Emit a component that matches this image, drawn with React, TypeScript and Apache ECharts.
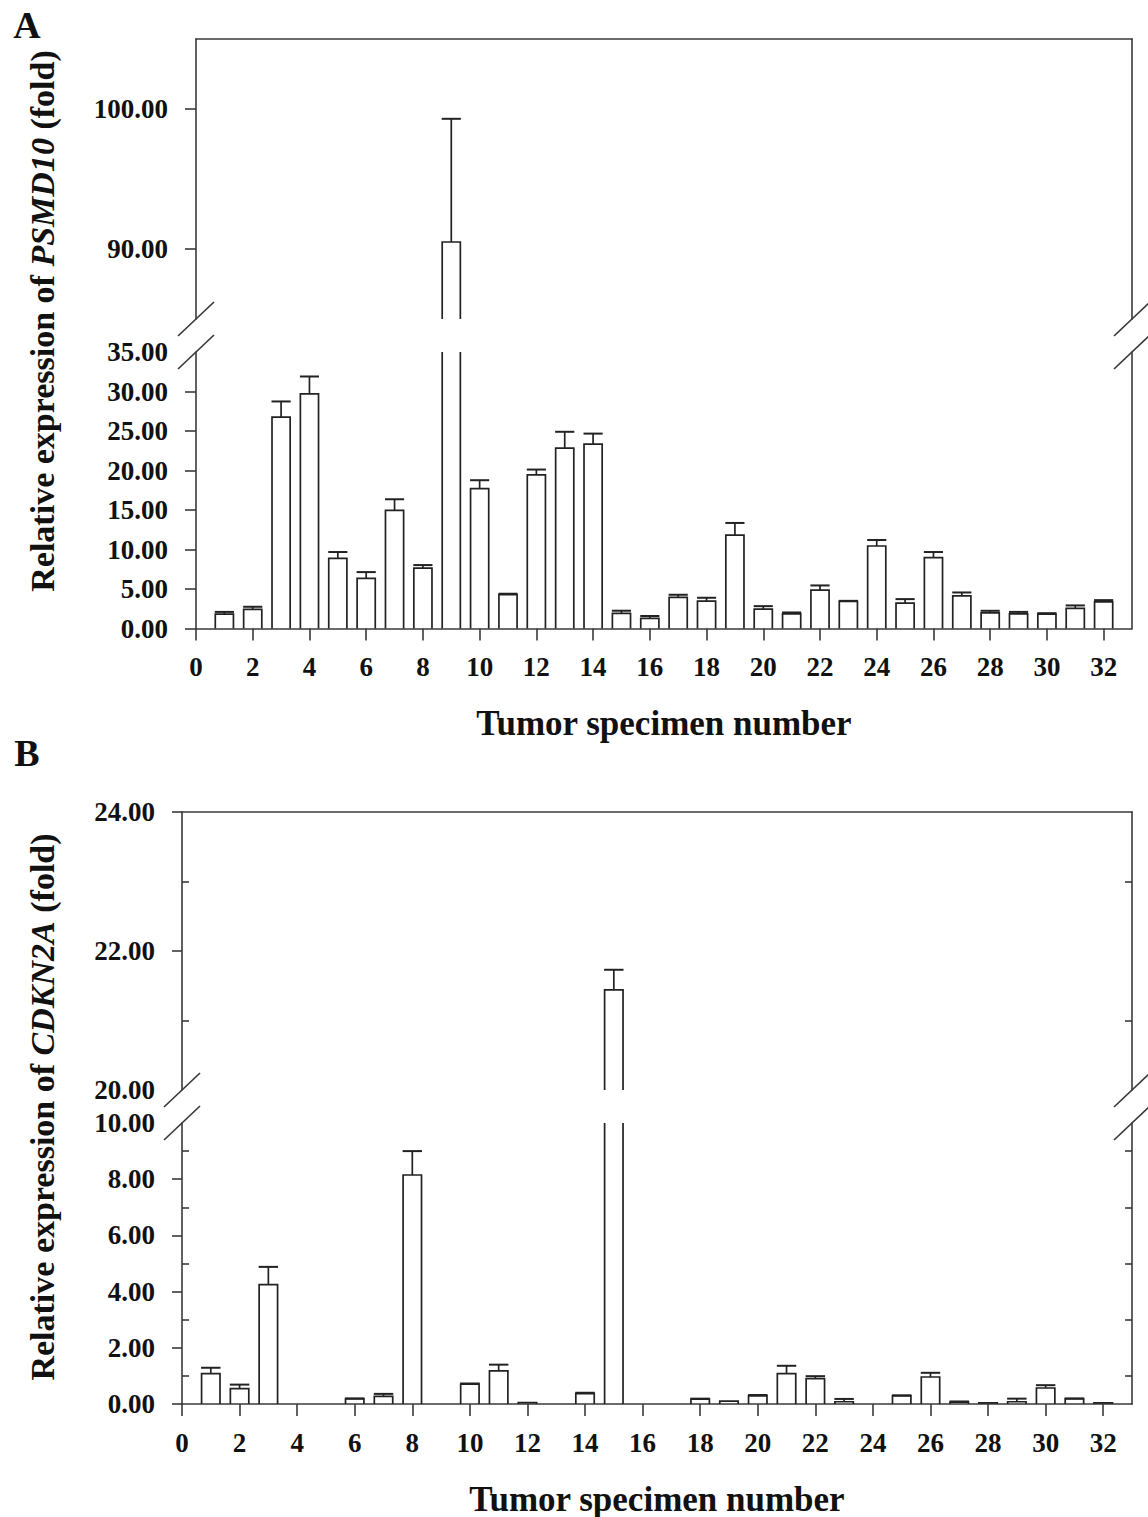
import React, { useEffect, useRef } from "react";
import * as echarts from "echarts";

// ---------- data ----------
const specimens = [
  1, 2, 3, 4, 5, 6, 7, 8, 9, 10, 11, 12, 13, 14, 15, 16,
  17, 18, 19, 20, 21, 22, 23, 24, 25, 26, 27, 28, 29, 30, 31, 32,
];
const psmd10Mean = [
  1.82, 2.41, 26.75, 29.71, 8.88, 6.34, 14.96, 7.65, 90.5, 17.71, 4.27, 19.44,
  22.82, 23.35, 1.92, 1.27, 3.93, 3.47, 11.83, 2.45, 1.86, 4.86, 3.42, 10.44,
  3.21, 8.96, 4.14, 1.99, 1.86, 1.82, 2.54, 3.38,
];
const psmd10Sd = [
  0.28, 0.34, 1.99, 2.19, 0.8, 0.8, 1.4, 0.38, 8.8, 1.06, 0.13, 0.68,
  2.08, 1.32, 0.33, 0.31, 0.34, 0.42, 1.53, 0.38, 0.17, 0.59, 0.08, 0.76,
  0.51, 0.72, 0.42, 0.25, 0.24, 0.12, 0.38, 0.21,
];
const cdkn2aMean = [
  1.08, 0.55, 4.25, 0, 0, 0.18, 0.27, 8.15, 0, 0.71, 1.18, 0.05,
  0, 0.37, 21.44, 0, 0, 0.17, 0.1, 0.29, 1.08, 0.9, 0.08, 0,
  0.29, 0.96, 0.07, 0.04, 0.08, 0.57, 0.18, 0.04,
];
const cdkn2aSd = [
  0.21, 0.14, 0.63, 0, 0, 0.02, 0.09, 0.85, 0, 0.02, 0.22, 0,
  0, 0.03, 0.29, 0, 0, 0.02, 0.01, 0.03, 0.28, 0.09, 0.1, 0,
  0.02, 0.15, 0.02, 0, 0.11, 0.1, 0.02, 0,
];
const xTicks = [0, 2, 4, 6, 8, 10, 12, 14, 16, 18, 20, 22, 24, 26, 28, 30, 32];
const aUpperLabels = [90, 100];
const aLowerLabels = [0, 5, 10, 15, 20, 25, 30, 35];
const aLowerTicks = [0, 5, 10, 15, 20, 25, 30];
const bUpperLabels = [20, 22, 24];
const bUpperTicks = [22, 24];
const bUpperMinor = [21, 23];
const bLowerLabels = [0, 2, 4, 6, 8, 10];
const bLowerTicks = [0, 2, 4, 6, 8];
const bLowerMinor = [1, 3, 5, 7, 9];

const FONT = '"Liberation Serif", "Times New Roman", serif';
const AXIS_COLOR = "#3a3a3a";
const BAR_W = 0.64;

function makeRender(lo: number, hi: number) {
  return (params: any, api: any) => {
    const x = api.value(0);
    const v = api.value(1);
    const sd = api.value(2);
    const children: any[] = [];
    if (!(v > lo)) return { type: "group", children };
    const top = Math.min(v, hi);
    const pT = api.coord([x, top]);
    const pB = api.coord([x, lo]);
    const w = api.size([BAR_W, 0])[0];
    const xl = pT[0] - w / 2;
    const xr = pT[0] + w / 2;
    const st = { stroke: "#222", lineWidth: 1.7, fill: null };
    if (v <= hi) {
      children.push({
        type: "polyline",
        shape: { points: [[xl, pB[1]], [xl, pT[1]], [xr, pT[1]], [xr, pB[1]]] },
        style: st,
      });
      const e = v + sd;
      if (sd > 0.015 && e <= hi) {
        const pE = api.coord([x, e]);
        children.push({
          type: "line",
          shape: { x1: pT[0], y1: pT[1], x2: pT[0], y2: pE[1] },
          style: st,
        });
        children.push({
          type: "line",
          shape: { x1: xl - 0.5, y1: pE[1], x2: xr + 0.5, y2: pE[1] },
          style: { stroke: "#222", lineWidth: 2 },
        });
      }
    } else {
      children.push({
        type: "line",
        shape: { x1: xl, y1: pB[1], x2: xl, y2: pT[1] },
        style: st,
      });
      children.push({
        type: "line",
        shape: { x1: xr, y1: pB[1], x2: xr, y2: pT[1] },
        style: st,
      });
    }
    return { type: "group", children };
  };
}

const lineStyle = { color: AXIS_COLOR, width: 1.6 };
const labelStyle = {
  fontFamily: FONT,
  fontWeight: "bold" as const,
  fontSize: 27,
  color: "#111",
};

function xAxisTop(gridIndex: number) {
  return {
    gridIndex,
    type: "value",
    min: 0,
    max: 33,
    position: "top",
    axisLine: { show: true, onZero: false, lineStyle },
    axisTick: { show: false },
    axisLabel: { show: false },
    splitLine: { show: false },
  };
}
function xAxisBottom(gridIndex: number) {
  return {
    gridIndex,
    type: "value",
    min: 0,
    max: 33,
    position: "bottom",
    axisLine: { show: true, onZero: false, lineStyle },
    axisTick: { show: true, length: 12, customValues: xTicks, lineStyle },
    axisLabel: { show: true, customValues: xTicks, margin: 25, ...labelStyle },
    splitLine: { show: false },
  };
}
function yMain(gridIndex: number, min: number, max: number, labels: number[], ticks: number[], margin: number, len: number) {
  return {
    gridIndex,
    type: "value",
    min,
    max,
    position: "left",
    axisLine: { show: true, onZero: false, lineStyle },
    axisTick: { show: true, length: len, customValues: ticks, lineStyle },
    axisLabel: {
      show: true,
      customValues: labels,
      margin,
      formatter: (val: number) => val.toFixed(2),
      ...labelStyle,
    },
    splitLine: { show: false },
  };
}
function yMinor(gridIndex: number, min: number, max: number, ticks: number[], position: string, showLine: boolean) {
  return {
    gridIndex,
    type: "value",
    min,
    max,
    position,
    axisLine: { show: showLine, onZero: false, lineStyle },
    axisTick: { show: ticks.length > 0, inside: true, length: 7, customValues: ticks.length ? ticks : [min], lineStyle },
    axisLabel: { show: false },
    splitLine: { show: false },
  };
}

function slash(cx: number, cy: number) {
  return {
    type: "line",
    shape: { x1: cx - 18, y1: cy + 17, x2: cx + 18, y2: cy - 17 },
    style: { stroke: AXIS_COLOR, lineWidth: 1.7 },
    z: 10,
  };
}

function yTitle(x: number, y: number, gene: string) {
  return {
    type: "text",
    x,
    y,
    rotation: Math.PI / 2,
    style: {
      text: `{n|Relative expression of }{g|${gene}}{n| (fold)}`,
      rich: {
        n: { fontFamily: FONT, fontWeight: "bold", fontSize: 34, fill: "#111" },
        g: { fontFamily: FONT, fontWeight: "bold", fontStyle: "italic", fontSize: 34, fill: "#111" },
      },
      align: "center",
      verticalAlign: "middle",
      textAlign: "center",
      textVerticalAlign: "middle",
    },
  };
}
function plainText(x: number, y: number, text: string, size: number) {
  return {
    type: "text",
    x,
    y,
    style: {
      text,
      fontFamily: FONT,
      fontWeight: "bold",
      fontSize: size,
      fill: "#111",
      align: "center",
      verticalAlign: "middle",
      textAlign: "center",
      textVerticalAlign: "middle",
    },
  };
}

export default function App() {
  const ref = useRef<HTMLDivElement>(null);
  useEffect(() => {
    if (!ref.current) return;
    const chart = echarts.init(ref.current, undefined, { renderer: "svg" });
    const aData = specimens.map((s, i) => [s, psmd10Mean[i], psmd10Sd[i]]);
    const bData = specimens.map((s, i) => [s, cdkn2aMean[i], cdkn2aSd[i]]);
    const option: any = {
      animation: false,
      backgroundColor: "#fff",
      grid: [
        { left: 196, top: 39, width: 936, height: 280 },
        { left: 196, top: 352, width: 936, height: 276.5 },
        { left: 182, top: 812, width: 950, height: 278 },
        { left: 182, top: 1123, width: 950, height: 281 },
      ],
      xAxis: [xAxisTop(0), xAxisBottom(1), xAxisTop(2), xAxisBottom(3)],
      yAxis: [
        yMain(0, 85, 105, aUpperLabels, aUpperLabels, 28, 11),
        yMinor(0, 85, 105, [], "right", true),
        yMain(1, 0, 35, aLowerLabels, aLowerTicks, 28, 11),
        yMinor(1, 0, 35, [], "right", true),
        yMain(2, 20, 24, bUpperLabels, bUpperTicks, 27, 10),
        yMinor(2, 20, 24, bUpperMinor, "left", false),
        yMinor(2, 20, 24, bUpperMinor, "right", true),
        yMain(3, 0, 10, bLowerLabels, bLowerTicks, 27, 10),
        yMinor(3, 0, 10, bLowerMinor, "left", false),
        yMinor(3, 0, 10, bLowerMinor, "right", true),
      ],
      series: [
        { type: "custom", xAxisIndex: 0, yAxisIndex: 0, data: aData, renderItem: makeRender(85, 105), encode: { x: 0, y: 1 }, clip: false },
        { type: "custom", xAxisIndex: 1, yAxisIndex: 2, data: aData, renderItem: makeRender(0, 35), encode: { x: 0, y: 1 }, clip: false },
        { type: "custom", xAxisIndex: 2, yAxisIndex: 4, data: bData, renderItem: makeRender(20, 24), encode: { x: 0, y: 1 }, clip: false },
        { type: "custom", xAxisIndex: 3, yAxisIndex: 7, data: bData, renderItem: makeRender(0, 10), encode: { x: 0, y: 1 }, clip: false },
      ],
      graphic: [
        slash(196, 319),
        slash(196, 352),
        slash(1132, 319),
        slash(1132, 352),
        slash(182, 1090),
        slash(182, 1123),
        slash(1132, 1090),
        slash(1132, 1123),
        yTitle(42, 321, "PSMD10"),
        yTitle(42, 1107, "CDKN2A"),
        plainText(664, 723, "Tumor specimen number", 35),
        plainText(657, 1499, "Tumor specimen number", 35),
        plainText(27, 25, "A", 38),
        plainText(27, 753, "B", 38),
      ],
    };
    chart.setOption(option);
    return () => chart.dispose();
  }, []);
  return (
    <div
      ref={ref}
      style={{ position: "absolute", left: 0, top: 0, width: 1148, height: 1517 }}
    />
  );
}
